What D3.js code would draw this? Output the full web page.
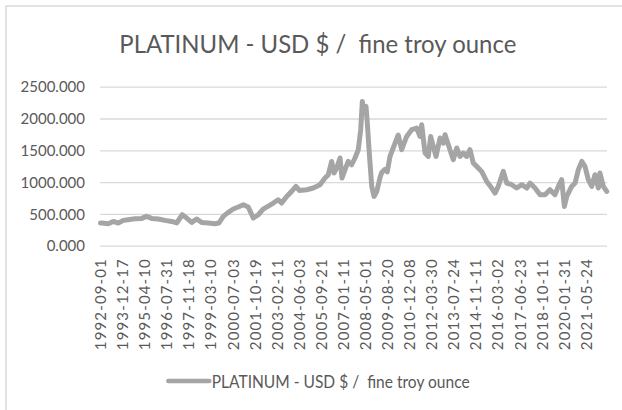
<!DOCTYPE html>
<html><head><meta charset="utf-8">
<script src="https://cdn.jsdelivr.net/npm/d3@7"></script>
<style>body{margin:0;background:#fff}svg text{white-space:pre}</style>
</head><body>
<svg id="c" width="622" height="410"></svg>
<script>
const titleText = "PLATINUM - USD $ /  fine troy ounce";
const seriesName = "PLATINUM - USD $ /  fine troy ounce";
const yTicks = [0, 500, 1000, 1500, 2000, 2500];
const tickLabels = ["1992-09-01","1993-12-17","1995-04-10","1996-07-31","1997-11-18","1999-03-10","2000-07-03","2001-10-19","2003-02-11","2004-06-03","2005-09-21","2007-01-11","2008-05-01","2009-08-20","2010-12-08","2012-03-30","2013-07-24","2014-11-11","2016-03-02","2017-06-23","2018-10-11","2020-01-31","2021-05-24"];
const xDomain = ["1992-09-01", "2022-08-20"];
const dates = ["1992-09-01","1992-09-27","1993-02-17","1993-06-03","1993-09-20","1994-01-07","1994-04-23","1994-09-16","1995-02-09","1995-05-25","1995-09-11","1996-02-02","1996-06-25","1996-11-18","1997-03-04","1997-07-03","1997-10-07","1998-01-24","1998-05-10","1998-08-27","1999-01-17","1999-06-10","1999-09-05","1999-12-07","2000-03-23","2000-07-10","2000-10-26","2001-02-13","2001-05-29","2001-09-16","2002-01-02","2002-04-12","2002-07-01","2002-11-22","2003-03-08","2003-05-21","2003-09-07","2003-12-24","2004-03-25","2004-06-06","2004-11-14","2005-04-04","2005-08-27","2005-12-13","2006-02-23","2006-05-06","2006-06-25","2006-08-23","2006-11-03","2006-12-15","2007-02-19","2007-04-29","2007-07-12","2007-09-22","2007-12-02","2008-01-24","2008-02-28","2008-04-04","2008-05-17","2008-06-14","2008-07-27","2008-09-18","2008-11-07","2009-01-04","2009-03-14","2009-04-21","2009-07-01","2009-08-20","2009-10-18","2010-02-04","2010-04-14","2010-06-27","2010-10-13","2011-01-30","2011-05-17","2011-07-27","2011-09-03","2011-11-14","2012-01-24","2012-03-14","2012-05-10","2012-07-08","2012-10-03","2012-12-13","2013-01-19","2013-05-06","2013-07-16","2013-09-29","2013-12-09","2014-02-19","2014-05-01","2014-07-12","2014-09-22","2014-12-04","2015-03-21","2015-07-08","2015-10-24","2016-01-04","2016-03-14","2016-07-01","2016-09-13","2016-12-30","2017-04-16","2017-08-03","2017-11-20","2018-01-30","2018-05-17","2018-09-03","2018-12-20","2019-04-06","2019-07-22","2019-10-03","2019-12-15","2020-02-11","2020-04-02","2020-07-18","2020-09-29","2020-12-09","2021-02-21","2021-05-01","2021-07-12","2021-09-24","2021-12-04","2022-02-14","2022-03-21","2022-06-01","2022-08-14"];
const prices = [357,357,346,382,357,398,409,424,429,461,429,420,398,382,357,487,435,366,420,366,357,346,357,461,524,577,608,644,608,435,487,570,608,671,723,671,775,854,932,869,880,907,959,1064,1116,1325,1143,1221,1379,1064,1195,1325,1273,1379,1509,1824,2268,2086,2190,1929,1457,932,775,850,1064,1150,1200,1160,1404,1614,1740,1509,1718,1824,1850,1718,1902,1457,1404,1718,1561,1404,1693,1614,1745,1509,1352,1536,1404,1457,1404,1509,1300,1247,1168,1011,907,828,932,1168,985,959,907,959,907,985,907,802,802,880,802,932,1038,618,775,932,985,1195,1325,1247,1038,932,1116,907,1143,932,854];

const parse = d3.timeParse("%Y-%m-%d");
const data = dates.map((d, i) => ({date: parse(d), value: prices[i]}));

const svg = d3.select("#c");
const textCol = "#595959";
const gridCol = "#d9d9d9";
const lineCol = "#a5a5a5";
const font = "Lato, 'Open Sans', sans-serif";

svg.append("rect").attr("x", 0).attr("y", 0).attr("width", 622).attr("height", 410).attr("fill", "#fff");
svg.append("rect").attr("x", 6).attr("y", 6).attr("width", 700).attr("height", 500)
  .attr("fill", "none").attr("stroke", gridCol).attr("stroke-width", 1.5);

const plotL = 100, plotR = 607;
const x = d3.scaleTime().domain(xDomain.map(parse)).range([100.5, 607]);
const y = d3.scaleLinear().domain([0, 2500]).range([245.7, 86.7]);

// title
svg.append("text").attr("x", 119.3).attr("y", 52.7)
  .attr("font-family", font).attr("font-size", 24.5).attr("fill", textCol)
  .attr("textLength", 397).attr("lengthAdjust", "spacingAndGlyphs")
  .text(titleText);

// gridlines + y labels
const yAxis = d3.axisLeft(y).tickValues(yTicks).tickSize(0).tickPadding(0)
  .tickFormat(d3.format(".3f"));
const gy = svg.append("g").attr("transform", `translate(${plotL},0)`).call(yAxis);
gy.select(".domain").remove();
gy.selectAll(".tick line").attr("x2", plotR - plotL).attr("stroke", gridCol).attr("stroke-width", 1.3);
gy.selectAll(".tick text").attr("x", -15).attr("dy", "0.35em")
  .attr("font-family", font).attr("font-size", 15).attr("fill", textCol);

// x axis labels
const xAxis = d3.axisBottom(x).tickValues(tickLabels.map(parse)).tickSize(0)
  .tickFormat(d3.timeFormat("%Y-%m-%d"));
const gx = svg.append("g").attr("transform", `translate(0,${y(0)})`).call(xAxis);
gx.select(".domain").remove();
gx.selectAll(".tick text")
  .attr("transform", "translate(0,13.5) rotate(-90)")
  .attr("x", 0).attr("y", 0).attr("dy", "0.35em")
  .attr("text-anchor", "end")
  .attr("font-family", font).attr("font-size", 15).attr("fill", textCol)
  .attr("textLength", 91).attr("lengthAdjust", "spacing");

// line
const line = d3.line().x(d => x(d.date)).y(d => y(d.value));
svg.append("path").datum(data).attr("d", line)
  .attr("fill", "none").attr("stroke", lineCol).attr("stroke-width", 5)
  .attr("stroke-linejoin", "round").attr("stroke-linecap", "round");

// legend
svg.append("line").attr("x1", 168.3).attr("x2", 209.3).attr("y1", 381).attr("y2", 381)
  .attr("stroke", lineCol).attr("stroke-width", 4.5).attr("stroke-linecap", "round");
svg.append("text").attr("x", 211.7).attr("y", 387.7)
  .attr("font-family", font).attr("font-size", 16.5).attr("fill", textCol)
  .attr("textLength", 258).attr("lengthAdjust", "spacingAndGlyphs")
  .text(seriesName);
</script>
</body></html>
